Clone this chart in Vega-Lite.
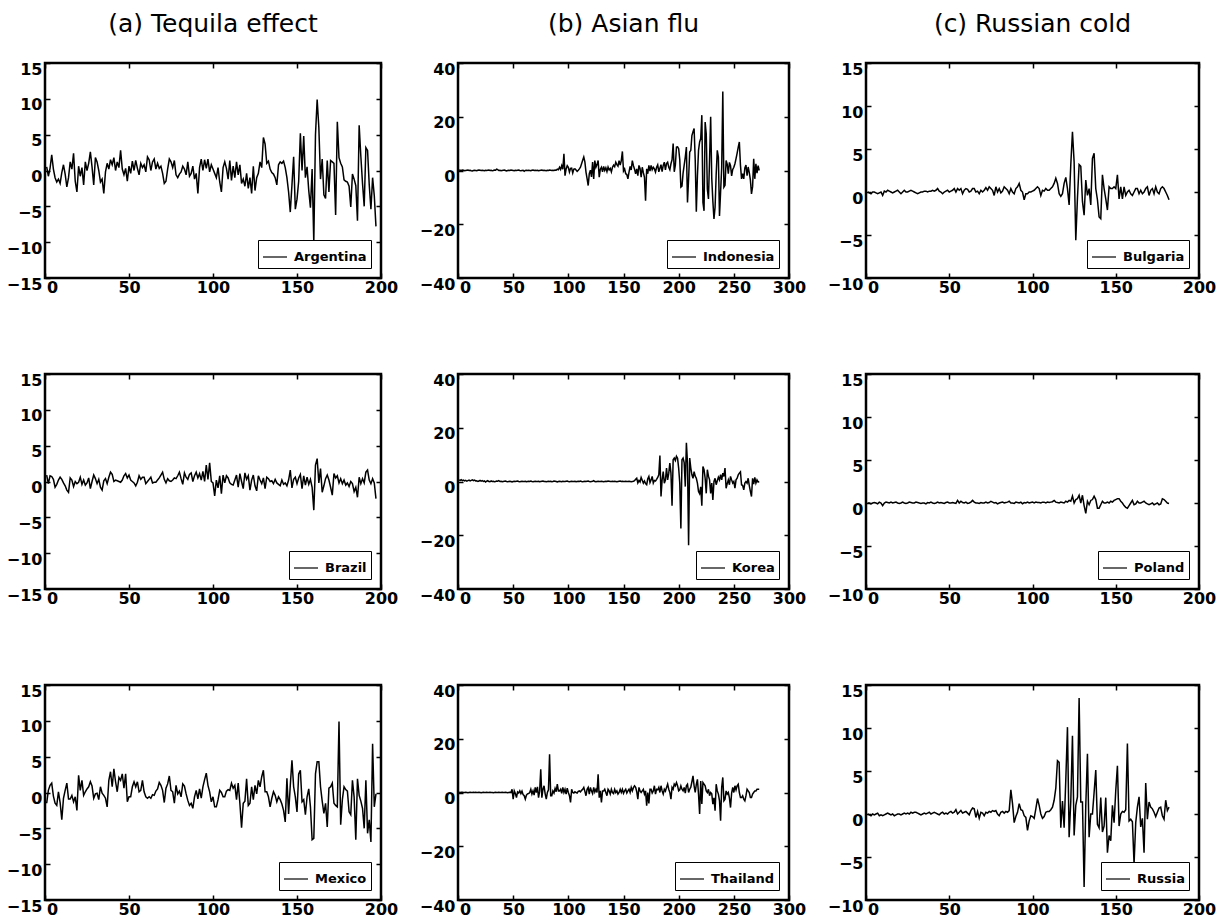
{
"$schema":"https://vega.github.io/schema/vega-lite/v6.json",
"background":"white",
"padding":{"left":5,"top":10,"right":0,"bottom":0},
"columns":3,
"spacing":{"row":96,"column":77},
"bounds":"flush",
"resolve":{"scale":{"color":"independent"},"legend":{"color":"independent"}},
"config":{
"view":{"stroke":"black","strokeWidth":2.5},
"axis":{"domain":false,"grid":false,"tickSize":-5,"tickColor":"black","tickWidth":1.5,"labelFont":"DejaVu Sans","labelFontWeight":"bold","labelFontSize":16,"labelColor":"black","labelFlush":false,"labelOverlap":false,"labelBound":false},
"axisX":{"labelPadding":6,"labelOffset":{"condition":{"test":"datum.value === 0","value":7},"value":0}},
"axisY":{"labelPadding":8,"labelOffset":6},
"legend":{"orient":"bottom-right","offset":10,"strokeColor":"black","strokeWidth":1,"fillColor":"white","padding":4,"symbolType":"stroke","symbolSize":576,"symbolStrokeWidth":1.2,"labelFont":"DejaVu Sans","labelFontWeight":"bold","labelFontSize":13,"labelColor":"black","labelOffset":6,"cornerRadius":0},
"title":{"font":"DejaVu Sans","fontSize":25,"fontWeight":"normal","color":"black","offset":24,"baseline":"alphabetic","anchor":"middle","frame":"group"}
},
"datasets":{
"tequila":[
{"t":1,"ar":0.5,"br":0.9,"mx":-1.5},{"t":2,"ar":-0.8,"br":-0.3,"mx":0.3},{"t":3,"ar":0.3,"br":0.8,"mx":1.0},{"t":4,"ar":2.2,"br":0.7,"mx":1.3},{"t":5,"ar":0.2,"br":0.3,"mx":-0.5},{"t":6,"ar":-1.0,"br":-0.8,"mx":-1.5},{"t":7,"ar":-1.6,"br":-0.4,"mx":-1.8},{"t":8,"ar":-1.2,"br":0.2,"mx":0.1},{"t":9,"ar":-1.8,"br":0.6,"mx":-1.4},{"t":10,"ar":-0.3,"br":0.3,"mx":-3.8},
{"t":11,"ar":0.8,"br":-0.2,"mx":-0.8},{"t":12,"ar":-0.5,"br":-0.6,"mx":0.3},{"t":13,"ar":-2.3,"br":-1.2,"mx":1.3},{"t":14,"ar":-1.0,"br":-1.5,"mx":-0.9},{"t":15,"ar":1.2,"br":0.5,"mx":-0.9},{"t":16,"ar":0.2,"br":0.2,"mx":-0.4},{"t":17,"ar":2.4,"br":-0.7,"mx":-1.3},{"t":18,"ar":-1.5,"br":0.0,"mx":-0.6},{"t":19,"ar":-3.0,"br":-0.3,"mx":-2.5},{"t":20,"ar":0.6,"br":-0.1,"mx":2.4},
{"t":21,"ar":-0.8,"br":0.6,"mx":0.3},{"t":22,"ar":0.4,"br":-0.4,"mx":1.7},{"t":23,"ar":-2.0,"br":0.2,"mx":-0.4},{"t":24,"ar":1.2,"br":-0.5,"mx":0.1},{"t":25,"ar":0.0,"br":-0.2,"mx":0.5},{"t":26,"ar":1.0,"br":0.5,"mx":0.8},{"t":27,"ar":2.6,"br":-1.0,"mx":1.5},{"t":28,"ar":0.5,"br":0.0,"mx":0.9},{"t":29,"ar":-2.0,"br":0.9,"mx":-0.8},{"t":30,"ar":1.8,"br":0.4,"mx":-0.2},
{"t":31,"ar":1.2,"br":-0.3,"mx":-0.1},{"t":32,"ar":0.0,"br":0.3,"mx":-1.0},{"t":33,"ar":-1.6,"br":-0.8,"mx":0.8},{"t":34,"ar":-1.2,"br":-1.2,"mx":-0.1},{"t":35,"ar":-3.2,"br":0.1,"mx":-0.4},{"t":36,"ar":-0.2,"br":0.4,"mx":-0.8},{"t":37,"ar":1.0,"br":-0.3,"mx":-2.0},{"t":38,"ar":0.2,"br":0.6,"mx":1.7},{"t":39,"ar":1.5,"br":1.3,"mx":2.9},{"t":40,"ar":0.8,"br":1.0,"mx":0.8},
{"t":41,"ar":1.8,"br":0.0,"mx":3.3},{"t":42,"ar":0.0,"br":0.2,"mx":1.5},{"t":43,"ar":1.2,"br":0.1,"mx":0.1},{"t":44,"ar":0.4,"br":0.0,"mx":2.1},{"t":45,"ar":2.8,"br":-0.1,"mx":1.7},{"t":46,"ar":0.2,"br":0.2,"mx":2.6},{"t":47,"ar":-0.6,"br":0.8,"mx":0.6},{"t":48,"ar":0.3,"br":1.1,"mx":2.6},{"t":49,"ar":-1.5,"br":0.5,"mx":-1.3},{"t":50,"ar":0.6,"br":0.9,"mx":-0.6},
{"t":51,"ar":-0.4,"br":0.2,"mx":-0.6},{"t":52,"ar":1.3,"br":0.0,"mx":0.8},{"t":53,"ar":0.0,"br":-0.2,"mx":1.5},{"t":54,"ar":1.4,"br":-0.6,"mx":0.8},{"t":55,"ar":0.3,"br":-0.1,"mx":1.5},{"t":56,"ar":-0.6,"br":0.8,"mx":0.1},{"t":57,"ar":1.0,"br":0.3,"mx":0.3},{"t":58,"ar":0.4,"br":0.6,"mx":1.7},{"t":59,"ar":0.8,"br":0.6,"mx":0.1},{"t":60,"ar":-0.2,"br":-0.3,"mx":-0.6},
{"t":61,"ar":1.9,"br":0.0,"mx":-0.8},{"t":62,"ar":1.5,"br":0.3,"mx":-0.6},{"t":63,"ar":0.0,"br":0.6,"mx":-0.8},{"t":64,"ar":1.2,"br":-0.2,"mx":-0.3},{"t":65,"ar":1.6,"br":-0.1,"mx":-0.4},{"t":66,"ar":0.2,"br":-0.1,"mx":0.2},{"t":67,"ar":1.0,"br":0.2,"mx":0.5},{"t":68,"ar":0.3,"br":0.5,"mx":1.4},{"t":69,"ar":0.6,"br":0.9,"mx":1.0},{"t":70,"ar":-0.4,"br":1.3,"mx":0.3},
{"t":71,"ar":-1.8,"br":0.3,"mx":-1.4},{"t":72,"ar":-1.5,"br":-0.2,"mx":0.6},{"t":73,"ar":0.2,"br":0.4,"mx":1.2},{"t":74,"ar":1.6,"br":0.1,"mx":2.3},{"t":75,"ar":1.2,"br":0.0,"mx":0.3},{"t":76,"ar":0.4,"br":0.2,"mx":0.1},{"t":77,"ar":1.4,"br":0.5,"mx":-1.5},{"t":78,"ar":-0.6,"br":0.4,"mx":1.0},{"t":79,"ar":-1.0,"br":0.8,"mx":-0.2},{"t":80,"ar":-0.5,"br":1.3,"mx":0.2},
{"t":81,"ar":-0.2,"br":0.4,"mx":-0.6},{"t":82,"ar":0.6,"br":-0.4,"mx":1.2},{"t":83,"ar":0.2,"br":1.2,"mx":0.9},{"t":84,"ar":-0.6,"br":0.6,"mx":-0.2},{"t":85,"ar":1.2,"br":0.3,"mx":-1.1},{"t":86,"ar":-0.8,"br":1.0,"mx":-1.8},{"t":87,"ar":-0.4,"br":1.2,"mx":-1.5},{"t":88,"ar":0.6,"br":0.0,"mx":-2.2},{"t":89,"ar":-1.2,"br":0.8,"mx":-0.6},{"t":90,"ar":-0.4,"br":1.3,"mx":0.3},
{"t":91,"ar":-3.2,"br":0.5,"mx":-0.9},{"t":92,"ar":0.4,"br":1.1,"mx":0.5},{"t":93,"ar":1.6,"br":0.2,"mx":-0.8},{"t":94,"ar":0.0,"br":1.4,"mx":0.8},{"t":95,"ar":1.5,"br":0.0,"mx":1.8},{"t":96,"ar":0.3,"br":2.3,"mx":2.7},{"t":97,"ar":1.6,"br":0.3,"mx":1.0},{"t":98,"ar":-0.2,"br":2.6,"mx":0.1},{"t":99,"ar":0.8,"br":0.0,"mx":-1.3},{"t":100,"ar":0.2,"br":-0.2,"mx":-0.6},
{"t":101,"ar":-0.4,"br":-2.0,"mx":-2.0},{"t":102,"ar":-1.0,"br":0.2,"mx":-2.0},{"t":103,"ar":0.4,"br":-0.9,"mx":-1.0},{"t":104,"ar":-1.6,"br":0.8,"mx":0.3},{"t":105,"ar":-3.0,"br":-1.7,"mx":0.0},{"t":106,"ar":0.4,"br":0.9,"mx":-0.6},{"t":107,"ar":1.2,"br":-0.2,"mx":-0.6},{"t":108,"ar":0.3,"br":0.8,"mx":0.2},{"t":109,"ar":-1.2,"br":0.5,"mx":0.4},{"t":110,"ar":1.4,"br":-0.2,"mx":0.3},
{"t":111,"ar":-1.4,"br":-0.4,"mx":1.3},{"t":112,"ar":0.6,"br":-0.5,"mx":0.6},{"t":113,"ar":-1.0,"br":0.2,"mx":1.0},{"t":114,"ar":1.2,"br":0.9,"mx":-1.0},{"t":115,"ar":-0.6,"br":-0.8,"mx":1.3},{"t":116,"ar":0.8,"br":1.1,"mx":-1.5},{"t":117,"ar":-1.8,"br":0.0,"mx":-4.9},{"t":118,"ar":-1.2,"br":-1.0,"mx":-1.5},{"t":119,"ar":-2.2,"br":1.2,"mx":-1.2},{"t":120,"ar":-0.4,"br":0.3,"mx":1.9},
{"t":121,"ar":-2.5,"br":0.8,"mx":-1.8},{"t":122,"ar":-1.0,"br":-1.2,"mx":-1.5},{"t":123,"ar":-3.2,"br":0.2,"mx":0.8},{"t":124,"ar":0.6,"br":0.9,"mx":-1.0},{"t":125,"ar":-2.8,"br":-0.6,"mx":1.0},{"t":126,"ar":-1.0,"br":-1.3,"mx":-0.2},{"t":127,"ar":-0.4,"br":0.8,"mx":1.7},{"t":128,"ar":1.2,"br":0.2,"mx":0.8},{"t":129,"ar":0.4,"br":-0.3,"mx":2.2},{"t":130,"ar":4.6,"br":0.5,"mx":3.1},
{"t":131,"ar":3.7,"br":-1.0,"mx":0.1},{"t":132,"ar":1.0,"br":0.6,"mx":0.1},{"t":133,"ar":1.3,"br":0.4,"mx":-0.6},{"t":134,"ar":0.2,"br":0.0,"mx":-2.0},{"t":135,"ar":-0.3,"br":0.1,"mx":-0.8},{"t":136,"ar":-0.5,"br":-0.3,"mx":0.1},{"t":137,"ar":-1.0,"br":0.3,"mx":-0.4},{"t":138,"ar":-2.0,"br":-0.2,"mx":-1.3},{"t":139,"ar":0.8,"br":-0.4,"mx":-0.6},{"t":140,"ar":1.2,"br":-0.6,"mx":-1.0},
{"t":141,"ar":1.0,"br":0.2,"mx":-1.6},{"t":142,"ar":1.3,"br":-0.4,"mx":-2.5},{"t":143,"ar":0.4,"br":-0.2,"mx":-4.1},{"t":144,"ar":-1.0,"br":-0.6,"mx":2.0},{"t":145,"ar":-3.0,"br":0.2,"mx":-3.0},{"t":146,"ar":-5.8,"br":1.6,"mx":1.0},{"t":147,"ar":-2.0,"br":-0.9,"mx":4.5},{"t":148,"ar":1.9,"br":0.3,"mx":0.8},{"t":149,"ar":-5.4,"br":0.6,"mx":-0.6},{"t":150,"ar":-4.0,"br":-0.3,"mx":-2.7},
{"t":151,"ar":-1.5,"br":0.5,"mx":2.6},{"t":152,"ar":5.2,"br":1.0,"mx":3.1},{"t":153,"ar":0.0,"br":-1.0,"mx":-1.3},{"t":154,"ar":4.8,"br":0.8,"mx":-1.0},{"t":155,"ar":-1.0,"br":-0.5,"mx":-3.1},{"t":156,"ar":0.5,"br":0.6,"mx":-0.6},{"t":157,"ar":-2.8,"br":-0.4,"mx":0.5},{"t":158,"ar":-5.2,"br":0.3,"mx":-2.0},{"t":159,"ar":0.2,"br":-0.8,"mx":-6.6},{"t":160,"ar":-10.0,"br":-4.0,"mx":-6.4},
{"t":161,"ar":5.0,"br":2.3,"mx":2.6},{"t":162,"ar":9.9,"br":3.2,"mx":4.3},{"t":163,"ar":6.0,"br":-0.2,"mx":4.3},{"t":164,"ar":-1.2,"br":1.8,"mx":0.8},{"t":165,"ar":1.6,"br":-1.5,"mx":-1.2},{"t":166,"ar":-3.4,"br":-0.6,"mx":-2.9},{"t":167,"ar":-3.9,"br":0.4,"mx":-1.5},{"t":168,"ar":1.4,"br":0.9,"mx":-4.8},{"t":169,"ar":-3.0,"br":0.2,"mx":0.6},{"t":170,"ar":1.4,"br":-0.8,"mx":0.8},
{"t":171,"ar":1.2,"br":-1.9,"mx":1.3},{"t":172,"ar":1.0,"br":1.1,"mx":-1.5},{"t":173,"ar":-6.2,"br":0.5,"mx":-1.8},{"t":174,"ar":6.8,"br":0.8,"mx":-2.0},{"t":175,"ar":1.8,"br":-0.2,"mx":9.9},{"t":176,"ar":1.0,"br":0.4,"mx":-4.5},{"t":177,"ar":0.5,"br":-0.3,"mx":-1.0},{"t":178,"ar":-1.3,"br":0.2,"mx":0.8},{"t":179,"ar":-1.5,"br":-0.5,"mx":0.4},{"t":180,"ar":-1.6,"br":-0.2,"mx":0.2},
{"t":181,"ar":-2.2,"br":-0.7,"mx":-2.7},{"t":182,"ar":-5.1,"br":0.0,"mx":-3.1},{"t":183,"ar":-0.5,"br":-0.3,"mx":1.7},{"t":184,"ar":-1.2,"br":-1.4,"mx":-0.6},{"t":185,"ar":-2.1,"br":-0.8,"mx":-6.6},{"t":186,"ar":-7.0,"br":-2.2,"mx":1.9},{"t":187,"ar":6.3,"br":0.6,"mx":-0.4},{"t":188,"ar":2.0,"br":-0.3,"mx":-1.2},{"t":189,"ar":-1.8,"br":0.4,"mx":-2.2},{"t":190,"ar":-5.0,"br":-0.2,"mx":-5.0},
{"t":191,"ar":3.2,"br":1.3,"mx":1.7},{"t":192,"ar":2.8,"br":1.6,"mx":-5.7},{"t":193,"ar":-2.0,"br":0.2,"mx":-3.8},{"t":194,"ar":-5.4,"br":-0.3,"mx":-6.9},{"t":195,"ar":-1.0,"br":0.4,"mx":6.8},{"t":196,"ar":-3.5,"br":-0.2,"mx":-2.0},{"t":197,"ar":-7.8,"br":-2.4,"mx":-0.2}
],
"asian":[
{"t":1,"id":0.2,"kr":0.6,"th":0.1},{"t":2,"id":0.1,"kr":0.4,"th":0.0},{"t":3,"id":0.0,"kr":0.7,"th":0.1},{"t":4,"id":0.2,"kr":0.3,"th":0.1},{"t":5,"id":0.1,"kr":0.5,"th":0.0},{"t":6,"id":-0.1,"kr":0.2,"th":0.0},{"t":7,"id":0.0,"kr":0.4,"th":0.1},{"t":8,"id":0.1,"kr":0.1,"th":0.0},{"t":9,"id":0.2,"kr":0.3,"th":-0.1},{"t":10,"id":0.0,"kr":0.5,"th":0.0},
{"t":11,"id":0.1,"kr":0.2,"th":0.1},{"t":12,"id":-0.1,"kr":0.4,"th":0.0},{"t":13,"id":-0.2,"kr":0.6,"th":0.0},{"t":14,"id":0.0,"kr":0.3,"th":0.1},{"t":15,"id":0.1,"kr":0.5,"th":0.0},{"t":16,"id":0.0,"kr":0.2,"th":0.1},{"t":17,"id":-0.1,"kr":0.3,"th":0.0},{"t":18,"id":0.1,"kr":0.0,"th":0.0},{"t":19,"id":0.2,"kr":0.2,"th":0.1},{"t":20,"id":0.1,"kr":0.4,"th":0.0},
{"t":21,"id":0.0,"kr":0.1,"th":-0.1},{"t":22,"id":0.1,"kr":0.3,"th":0.0},{"t":23,"id":0.0,"kr":0.0,"th":0.1},{"t":24,"id":-0.1,"kr":0.2,"th":0.0},{"t":25,"id":0.1,"kr":-0.2,"th":0.0},{"t":26,"id":0.0,"kr":0.1,"th":0.1},{"t":27,"id":0.1,"kr":0.3,"th":0.0},{"t":28,"id":0.2,"kr":0.0,"th":0.0},{"t":29,"id":0.0,"kr":-0.1,"th":0.1},{"t":30,"id":0.1,"kr":0.2,"th":0.0},
{"t":31,"id":-0.1,"kr":0.0,"th":0.0},{"t":32,"id":0.0,"kr":0.1,"th":-0.1},{"t":33,"id":0.2,"kr":-0.1,"th":0.0},{"t":34,"id":0.1,"kr":0.0,"th":0.1},{"t":35,"id":0.5,"kr":0.2,"th":0.0},{"t":36,"id":0.3,"kr":0.1,"th":0.0},{"t":37,"id":0.0,"kr":0.3,"th":0.1},{"t":38,"id":0.1,"kr":0.0,"th":0.0},{"t":39,"id":-0.1,"kr":0.1,"th":0.0},{"t":40,"id":0.0,"kr":-0.1,"th":0.1},
{"t":41,"id":0.1,"kr":0.0,"th":0.0},{"t":42,"id":0.2,"kr":0.1,"th":0.0},{"t":43,"id":0.0,"kr":0.2,"th":0.1},{"t":44,"id":-0.2,"kr":0.0,"th":0.0},{"t":45,"id":0.0,"kr":-0.1,"th":-0.1},{"t":46,"id":0.1,"kr":0.0,"th":0.0},{"t":47,"id":0.0,"kr":0.1,"th":0.1},{"t":48,"id":0.2,"kr":0.0,"th":0.0},{"t":49,"id":0.1,"kr":-0.2,"th":1.2},{"t":50,"id":0.0,"kr":0.0,"th":-2.5},
{"t":51,"id":-0.1,"kr":0.1,"th":0.6},{"t":52,"id":0.1,"kr":0.0,"th":-0.4},{"t":53,"id":0.0,"kr":0.1,"th":-1.9},{"t":54,"id":0.1,"kr":0.2,"th":0.2},{"t":55,"id":0.2,"kr":0.0,"th":-0.2},{"t":56,"id":0.0,"kr":-0.1,"th":0.6},{"t":57,"id":-0.1,"kr":0.0,"th":-0.4},{"t":58,"id":0.0,"kr":0.1,"th":0.5},{"t":59,"id":0.1,"kr":0.0,"th":-0.8},{"t":60,"id":-0.3,"kr":0.0,"th":-1.2},
{"t":61,"id":0.0,"kr":0.1,"th":-2.5},{"t":62,"id":0.1,"kr":-0.1,"th":-1.0},{"t":63,"id":0.0,"kr":0.0,"th":-0.5},{"t":64,"id":0.1,"kr":0.1,"th":-0.4},{"t":65,"id":0.0,"kr":0.0,"th":0.0},{"t":66,"id":-0.1,"kr":0.2,"th":1.2},{"t":67,"id":0.1,"kr":0.0,"th":-0.6},{"t":68,"id":0.2,"kr":-0.1,"th":0.6},{"t":69,"id":0.0,"kr":0.0,"th":-1.0},{"t":70,"id":0.1,"kr":0.1,"th":1.9},
{"t":71,"id":0.0,"kr":0.0,"th":0.0},{"t":72,"id":0.1,"kr":0.0,"th":2.1},{"t":73,"id":-0.1,"kr":0.1,"th":-1.9},{"t":74,"id":0.0,"kr":-0.1,"th":0.5},{"t":75,"id":0.1,"kr":0.0,"th":8.6},{"t":76,"id":0.2,"kr":0.1,"th":-1.9},{"t":77,"id":0.0,"kr":0.2,"th":1.2},{"t":78,"id":0.1,"kr":0.0,"th":2.5},{"t":79,"id":0.0,"kr":0.0,"th":-0.5},{"t":80,"id":-0.1,"kr":-0.1,"th":-2.5},
{"t":81,"id":0.1,"kr":0.0,"th":0.0},{"t":82,"id":0.0,"kr":0.1,"th":1.0},{"t":83,"id":0.2,"kr":0.0,"th":14.2},{"t":84,"id":0.1,"kr":0.1,"th":-1.2},{"t":85,"id":0.0,"kr":-0.1,"th":-1.2},{"t":86,"id":0.1,"kr":0.0,"th":0.6},{"t":87,"id":0.0,"kr":0.2,"th":-0.2},{"t":88,"id":0.2,"kr":0.1,"th":1.5},{"t":89,"id":0.1,"kr":0.0,"th":0.3},{"t":90,"id":0.5,"kr":-0.2,"th":3.1},
{"t":91,"id":0.3,"kr":0.0,"th":0.6},{"t":92,"id":1.2,"kr":0.1,"th":0.6},{"t":93,"id":0.4,"kr":0.0,"th":1.2},{"t":94,"id":1.8,"kr":-0.1,"th":-0.3},{"t":95,"id":0.5,"kr":0.1,"th":1.9},{"t":96,"id":6.2,"kr":0.0,"th":0.0},{"t":97,"id":-1.9,"kr":0.0,"th":1.2},{"t":98,"id":0.6,"kr":0.1,"th":-0.6},{"t":99,"id":1.8,"kr":0.2,"th":1.6},{"t":100,"id":1.2,"kr":0.0,"th":0.0},
{"t":101,"id":-0.6,"kr":-0.1,"th":-1.2},{"t":102,"id":0.8,"kr":0.0,"th":-3.7},{"t":103,"id":0.9,"kr":0.1,"th":1.2},{"t":104,"id":-0.9,"kr":0.0,"th":0.0},{"t":105,"id":0.5,"kr":0.0,"th":-0.2},{"t":106,"id":0.6,"kr":0.1,"th":0.3},{"t":107,"id":0.2,"kr":-0.1,"th":0.0},{"t":108,"id":-0.3,"kr":0.0,"th":-0.2},{"t":109,"id":0.1,"kr":0.1,"th":0.4},{"t":110,"id":0.6,"kr":0.0,"th":0.6},
{"t":111,"id":1.2,"kr":0.2,"th":0.2},{"t":112,"id":2.5,"kr":0.0,"th":0.8},{"t":113,"id":3.8,"kr":-0.1,"th":1.2},{"t":114,"id":5.0,"kr":0.0,"th":1.9},{"t":115,"id":3.2,"kr":0.1,"th":0.4},{"t":116,"id":-0.6,"kr":0.0,"th":-1.2},{"t":117,"id":-3.0,"kr":0.1,"th":1.2},{"t":118,"id":-5.6,"kr":0.2,"th":1.9},{"t":119,"id":-1.2,"kr":0.0,"th":-0.6},{"t":120,"id":0.1,"kr":-0.1,"th":1.9},
{"t":121,"id":-2.4,"kr":0.0,"th":0.6},{"t":122,"id":3.1,"kr":0.1,"th":-0.4},{"t":123,"id":-3.1,"kr":0.3,"th":1.9},{"t":124,"id":3.7,"kr":0.0,"th":0.2},{"t":125,"id":1.2,"kr":-0.1,"th":1.2},{"t":126,"id":2.2,"kr":0.0,"th":0.0},{"t":127,"id":3.7,"kr":0.1,"th":6.8},{"t":128,"id":-2.5,"kr":0.0,"th":-1.9},{"t":129,"id":0.5,"kr":0.0,"th":0.6},{"t":130,"id":1.2,"kr":0.1,"th":-3.7},
{"t":131,"id":-0.5,"kr":0.0,"th":0.6},{"t":132,"id":1.5,"kr":-0.1,"th":0.6},{"t":133,"id":0.0,"kr":0.0,"th":1.2},{"t":134,"id":1.0,"kr":0.1,"th":0.0},{"t":135,"id":-0.4,"kr":0.0,"th":-1.2},{"t":136,"id":1.3,"kr":0.2,"th":1.2},{"t":137,"id":0.2,"kr":0.1,"th":0.6},{"t":138,"id":0.8,"kr":0.0,"th":-0.6},{"t":139,"id":-0.5,"kr":0.0,"th":1.2},{"t":140,"id":1.2,"kr":0.1,"th":0.0},
{"t":141,"id":2.0,"kr":0.0,"th":-0.4},{"t":142,"id":1.4,"kr":0.1,"th":1.2},{"t":143,"id":3.1,"kr":0.0,"th":0.0},{"t":144,"id":2.2,"kr":-0.1,"th":0.6},{"t":145,"id":1.6,"kr":0.0,"th":-0.6},{"t":146,"id":3.7,"kr":0.1,"th":0.0},{"t":147,"id":2.0,"kr":0.2,"th":1.2},{"t":148,"id":3.7,"kr":0.0,"th":0.0},{"t":149,"id":7.1,"kr":0.1,"th":1.2},{"t":150,"id":-0.2,"kr":0.0,"th":-0.3},
{"t":151,"id":0.6,"kr":0.0,"th":0.6},{"t":152,"id":-1.2,"kr":0.1,"th":1.2},{"t":153,"id":-1.5,"kr":0.0,"th":-0.2},{"t":154,"id":-3.1,"kr":0.0,"th":0.6},{"t":155,"id":-0.6,"kr":0.1,"th":1.2},{"t":156,"id":1.5,"kr":0.0,"th":0.0},{"t":157,"id":0.2,"kr":-0.1,"th":1.9},{"t":158,"id":3.7,"kr":0.0,"th":0.6},{"t":159,"id":1.8,"kr":0.1,"th":1.8},{"t":160,"id":0.5,"kr":0.3,"th":2.5},
{"t":161,"id":-1.2,"kr":0.8,"th":1.9},{"t":162,"id":0.6,"kr":1.2,"th":0.3},{"t":163,"id":-1.9,"kr":-0.5,"th":-2.5},{"t":164,"id":1.9,"kr":0.4,"th":1.9},{"t":165,"id":0.8,"kr":-0.2,"th":0.6},{"t":166,"id":-2.5,"kr":1.5,"th":0.0},{"t":167,"id":1.2,"kr":0.5,"th":0.6},{"t":168,"id":-0.8,"kr":-0.6,"th":1.2},{"t":169,"id":-2.5,"kr":0.2,"th":-0.6},{"t":170,"id":-11.2,"kr":-0.8,"th":0.6},
{"t":171,"id":0.6,"kr":-1.2,"th":-4.9},{"t":172,"id":-1.2,"kr":1.0,"th":0.0},{"t":173,"id":1.9,"kr":1.9,"th":-4.1},{"t":174,"id":-0.2,"kr":-0.4,"th":1.2},{"t":175,"id":1.9,"kr":0.6,"th":1.2},{"t":176,"id":0.3,"kr":1.9,"th":-0.2},{"t":177,"id":1.2,"kr":-0.6,"th":0.6},{"t":178,"id":0.6,"kr":0.4,"th":2.5},{"t":179,"id":-0.6,"kr":0.2,"th":-0.6},{"t":180,"id":1.2,"kr":0.8,"th":1.2},
{"t":181,"id":2.1,"kr":1.5,"th":1.0},{"t":182,"id":-0.5,"kr":2.5,"th":1.9},{"t":183,"id":0.8,"kr":9.7,"th":0.0},{"t":184,"id":2.2,"kr":-5.6,"th":2.5},{"t":185,"id":-0.4,"kr":0.6,"th":0.6},{"t":186,"id":1.9,"kr":3.7,"th":-0.6},{"t":187,"id":3.1,"kr":-0.6,"th":1.2},{"t":188,"id":0.2,"kr":0.5,"th":0.5},{"t":189,"id":2.6,"kr":5.0,"th":1.9},{"t":190,"id":3.1,"kr":0.6,"th":3.1},
{"t":191,"id":1.2,"kr":3.0,"th":1.2},{"t":192,"id":0.3,"kr":6.9,"th":0.0},{"t":193,"id":2.5,"kr":3.1,"th":-2.5},{"t":194,"id":4.0,"kr":-9.0,"th":1.9},{"t":195,"id":10.0,"kr":8.1,"th":1.2},{"t":196,"id":-0.5,"kr":8.7,"th":3.1},{"t":197,"id":2.0,"kr":7.8,"th":2.5},{"t":198,"id":8.7,"kr":9.4,"th":3.7},{"t":199,"id":8.8,"kr":8.7,"th":2.5},{"t":200,"id":8.1,"kr":5.0,"th":0.6},
{"t":201,"id":4.0,"kr":-0.6,"th":1.0},{"t":202,"id":-6.2,"kr":-17.5,"th":2.5},{"t":203,"id":-5.8,"kr":8.1,"th":1.2},{"t":204,"id":-1.0,"kr":8.7,"th":0.6},{"t":205,"id":2.0,"kr":7.0,"th":1.9},{"t":206,"id":5.0,"kr":-1.9,"th":-0.2},{"t":207,"id":8.7,"kr":14.4,"th":2.5},{"t":208,"id":-11.9,"kr":6.9,"th":3.1},{"t":209,"id":-3.0,"kr":-23.7,"th":0.0},{"t":210,"id":6.9,"kr":8.7,"th":1.2},
{"t":211,"id":7.5,"kr":5.0,"th":2.0},{"t":212,"id":13.0,"kr":2.5,"th":4.0},{"t":213,"id":14.4,"kr":1.2,"th":6.2},{"t":214,"id":15.6,"kr":3.7,"th":2.5},{"t":215,"id":4.0,"kr":2.0,"th":0.0},{"t":216,"id":-15.3,"kr":1.2,"th":3.0},{"t":217,"id":-2.0,"kr":-0.6,"th":4.9},{"t":218,"id":7.5,"kr":-3.7,"th":-0.6},{"t":219,"id":10.6,"kr":-4.5,"th":-8.0},{"t":220,"id":11.9,"kr":-2.0,"th":4.3},
{"t":221,"id":20.6,"kr":-9.0,"th":-4.3},{"t":222,"id":-11.9,"kr":5.6,"th":3.7},{"t":223,"id":-15.0,"kr":4.4,"th":3.1},{"t":224,"id":18.0,"kr":1.2,"th":2.5},{"t":225,"id":13.7,"kr":-4.4,"th":0.6},{"t":226,"id":-7.0,"kr":4.4,"th":0.0},{"t":227,"id":-10.6,"kr":2.0,"th":1.2},{"t":228,"id":4.0,"kr":0.6,"th":-1.2},{"t":229,"id":20.0,"kr":-4.4,"th":0.0},{"t":230,"id":-3.0,"kr":-0.6,"th":-0.5},
{"t":231,"id":-11.5,"kr":-6.9,"th":-4.3},{"t":232,"id":-18.0,"kr":0.0,"th":-2.0},{"t":233,"id":-13.7,"kr":1.2,"th":-6.8},{"t":234,"id":-1.5,"kr":-1.2,"th":3.1},{"t":235,"id":7.5,"kr":0.3,"th":0.6},{"t":236,"id":5.0,"kr":1.6,"th":-0.6},{"t":237,"id":-16.9,"kr":0.6,"th":-3.0},{"t":238,"id":-8.0,"kr":2.5,"th":-10.5},{"t":239,"id":1.0,"kr":0.6,"th":1.9},{"t":240,"id":29.4,"kr":3.1,"th":5.6},
{"t":241,"id":-6.2,"kr":1.9,"th":-3.1},{"t":242,"id":-5.5,"kr":5.0,"th":-2.5},{"t":243,"id":3.7,"kr":-2.5,"th":0.6},{"t":244,"id":2.4,"kr":-0.8,"th":-0.6},{"t":245,"id":-1.2,"kr":0.6,"th":0.0},{"t":246,"id":3.0,"kr":-1.2,"th":-2.0},{"t":247,"id":1.8,"kr":1.9,"th":-5.6},{"t":248,"id":-2.0,"kr":0.6,"th":-0.2},{"t":249,"id":0.4,"kr":-0.6,"th":1.9},{"t":250,"id":1.2,"kr":0.0,"th":0.0},
{"t":251,"id":2.5,"kr":-2.5,"th":2.5},{"t":252,"id":4.4,"kr":0.6,"th":1.0},{"t":253,"id":6.5,"kr":1.2,"th":2.5},{"t":254,"id":8.7,"kr":2.5,"th":3.1},{"t":255,"id":10.6,"kr":3.1,"th":0.0},{"t":256,"id":2.0,"kr":3.6,"th":-1.9},{"t":257,"id":-3.1,"kr":-1.2,"th":-1.9},{"t":258,"id":-1.2,"kr":-1.5,"th":-1.2},{"t":259,"id":-3.1,"kr":-3.1,"th":-2.5},{"t":260,"id":1.0,"kr":-0.6,"th":-3.1},
{"t":261,"id":2.0,"kr":0.0,"th":-1.2},{"t":262,"id":-1.9,"kr":-0.6,"th":1.2},{"t":263,"id":1.3,"kr":1.2,"th":0.6},{"t":264,"id":-0.8,"kr":-1.5,"th":0.0},{"t":265,"id":-3.5,"kr":-3.7,"th":-1.9},{"t":266,"id":-8.7,"kr":-5.6,"th":-1.9},{"t":267,"id":-6.0,"kr":1.2,"th":-0.6},{"t":268,"id":4.4,"kr":-1.0,"th":0.0},{"t":269,"id":-3.1,"kr":1.5,"th":0.6},{"t":270,"id":2.5,"kr":-0.6,"th":0.6},
{"t":271,"id":-1.0,"kr":0.6,"th":1.2},{"t":272,"id":1.8,"kr":-0.2,"th":1.2},{"t":273,"id":0.0,"kr":0.0,"th":1.2}
],
"russian":[
{"t":1,"bg":0.0,"pl":0.0,"ru":0.0},{"t":2,"bg":-0.1,"pl":0.0,"ru":-0.1},{"t":3,"bg":-0.2,"pl":-0.1,"ru":-0.2},{"t":4,"bg":0.0,"pl":0.0,"ru":0.0},{"t":5,"bg":0.0,"pl":0.05,"ru":-0.1},{"t":6,"bg":-0.1,"pl":0.0,"ru":0.0},{"t":7,"bg":-0.2,"pl":-0.1,"ru":0.1},{"t":8,"bg":-0.1,"pl":0.1,"ru":-0.2},{"t":9,"bg":0.0,"pl":0.0,"ru":-0.1},{"t":10,"bg":-0.4,"pl":-0.3,"ru":-0.2},
{"t":11,"bg":0.1,"pl":0.0,"ru":-0.1},{"t":12,"bg":0.0,"pl":0.1,"ru":0.0},{"t":13,"bg":0.2,"pl":0.05,"ru":0.1},{"t":14,"bg":0.1,"pl":0.0,"ru":0.0},{"t":15,"bg":0.0,"pl":0.1,"ru":-0.1},{"t":16,"bg":-0.1,"pl":0.0,"ru":0.0},{"t":17,"bg":0.0,"pl":0.05,"ru":-0.2},{"t":18,"bg":0.1,"pl":0.1,"ru":-0.1},{"t":19,"bg":0.2,"pl":0.0,"ru":0.0},{"t":20,"bg":0.0,"pl":-0.05,"ru":0.0},
{"t":21,"bg":-0.2,"pl":0.0,"ru":-0.1},{"t":22,"bg":0.0,"pl":0.1,"ru":0.0},{"t":23,"bg":0.2,"pl":0.0,"ru":0.1},{"t":24,"bg":0.0,"pl":-0.05,"ru":0.0},{"t":25,"bg":0.0,"pl":0.0,"ru":0.1},{"t":26,"bg":0.1,"pl":0.1,"ru":0.0},{"t":27,"bg":0.2,"pl":0.05,"ru":0.2},{"t":28,"bg":0.1,"pl":0.0,"ru":0.1},{"t":29,"bg":0.0,"pl":0.0,"ru":0.2},{"t":30,"bg":-0.1,"pl":0.1,"ru":0.2},
{"t":31,"bg":-0.2,"pl":0.05,"ru":0.1},{"t":32,"bg":-0.1,"pl":0.0,"ru":0.0},{"t":33,"bg":0.0,"pl":-0.05,"ru":-0.1},{"t":34,"bg":0.0,"pl":0.0,"ru":0.0},{"t":35,"bg":0.1,"pl":0.0,"ru":0.1},{"t":36,"bg":0.1,"pl":-0.1,"ru":0.0},{"t":37,"bg":0.0,"pl":0.05,"ru":0.1},{"t":38,"bg":0.1,"pl":0.0,"ru":0.2},{"t":39,"bg":0.1,"pl":0.1,"ru":0.0},{"t":40,"bg":0.2,"pl":0.0,"ru":0.1},
{"t":41,"bg":0.1,"pl":-0.05,"ru":0.2},{"t":42,"bg":0.2,"pl":0.0,"ru":0.1},{"t":43,"bg":0.4,"pl":0.1,"ru":0.0},{"t":44,"bg":0.1,"pl":0.0,"ru":-0.1},{"t":45,"bg":0.0,"pl":0.05,"ru":0.1},{"t":46,"bg":-0.2,"pl":0.0,"ru":0.2},{"t":47,"bg":0.0,"pl":-0.05,"ru":0.0},{"t":48,"bg":0.1,"pl":0.05,"ru":0.1},{"t":49,"bg":0.2,"pl":0.1,"ru":0.0},{"t":50,"bg":0.0,"pl":0.0,"ru":0.2},
{"t":51,"bg":0.1,"pl":0.0,"ru":0.3},{"t":52,"bg":0.2,"pl":0.05,"ru":0.1},{"t":53,"bg":0.4,"pl":0.0,"ru":0.2},{"t":54,"bg":0.0,"pl":-0.05,"ru":0.5},{"t":55,"bg":0.4,"pl":0.3,"ru":0.0},{"t":56,"bg":0.2,"pl":0.0,"ru":0.2},{"t":57,"bg":0.4,"pl":0.2,"ru":0.4},{"t":58,"bg":-0.2,"pl":0.05,"ru":0.1},{"t":59,"bg":0.2,"pl":0.0,"ru":0.2},{"t":60,"bg":0.4,"pl":0.1,"ru":0.3},
{"t":61,"bg":0.3,"pl":-0.05,"ru":0.1},{"t":62,"bg":0.0,"pl":0.0,"ru":-0.1},{"t":63,"bg":0.1,"pl":0.1,"ru":0.4},{"t":64,"bg":0.4,"pl":0.3,"ru":0.7},{"t":65,"bg":0.4,"pl":0.1,"ru":0.6},{"t":66,"bg":0.0,"pl":0.0,"ru":-0.4},{"t":67,"bg":0.1,"pl":0.0,"ru":0.3},{"t":68,"bg":-0.2,"pl":-0.05,"ru":-0.5},{"t":69,"bg":0.2,"pl":0.05,"ru":0.2},{"t":70,"bg":0.0,"pl":0.0,"ru":0.1},
{"t":71,"bg":0.2,"pl":0.0,"ru":-0.2},{"t":72,"bg":0.5,"pl":0.1,"ru":0.2},{"t":73,"bg":0.2,"pl":0.0,"ru":0.1},{"t":74,"bg":0.6,"pl":0.05,"ru":0.3},{"t":75,"bg":0.4,"pl":0.2,"ru":0.2},{"t":76,"bg":0.2,"pl":0.1,"ru":0.4},{"t":77,"bg":-0.4,"pl":0.0,"ru":0.3},{"t":78,"bg":0.6,"pl":0.05,"ru":0.4},{"t":79,"bg":0.0,"pl":-0.1,"ru":0.0},{"t":80,"bg":0.4,"pl":0.0,"ru":-0.2},
{"t":81,"bg":-0.1,"pl":0.05,"ru":0.2},{"t":82,"bg":0.1,"pl":0.1,"ru":0.3},{"t":83,"bg":0.6,"pl":0.0,"ru":0.1},{"t":84,"bg":0.4,"pl":0.05,"ru":0.3},{"t":85,"bg":0.2,"pl":0.1,"ru":0.2},{"t":86,"bg":-0.2,"pl":0.2,"ru":0.4},{"t":87,"bg":0.4,"pl":0.0,"ru":2.8},{"t":88,"bg":0.0,"pl":0.0,"ru":1.2},{"t":89,"bg":-0.2,"pl":-0.05,"ru":-1.0},{"t":90,"bg":0.4,"pl":0.1,"ru":-0.3},
{"t":91,"bg":0.6,"pl":0.05,"ru":0.2},{"t":92,"bg":1.0,"pl":0.0,"ru":1.2},{"t":93,"bg":0.2,"pl":0.1,"ru":0.5},{"t":94,"bg":0.0,"pl":-0.1,"ru":0.4},{"t":95,"bg":-0.9,"pl":0.05,"ru":-0.2},{"t":96,"bg":-0.2,"pl":0.0,"ru":-0.4},{"t":97,"bg":-0.2,"pl":0.1,"ru":-1.9},{"t":98,"bg":0.0,"pl":0.0,"ru":-0.8},{"t":99,"bg":0.0,"pl":0.05,"ru":-0.2},{"t":100,"bg":0.1,"pl":0.1,"ru":-0.3},
{"t":101,"bg":0.2,"pl":0.0,"ru":-0.5},{"t":102,"bg":0.4,"pl":0.1,"ru":0.6},{"t":103,"bg":0.6,"pl":0.05,"ru":1.8},{"t":104,"bg":0.4,"pl":0.05,"ru":1.0},{"t":105,"bg":-0.4,"pl":0.0,"ru":0.0},{"t":106,"bg":0.2,"pl":0.1,"ru":-0.5},{"t":107,"bg":0.1,"pl":0.1,"ru":-0.3},{"t":108,"bg":0.4,"pl":0.0,"ru":0.2},{"t":109,"bg":0.2,"pl":0.1,"ru":0.3},{"t":110,"bg":0.2,"pl":0.05,"ru":0.3},
{"t":111,"bg":0.4,"pl":0.1,"ru":0.5},{"t":112,"bg":0.6,"pl":0.15,"ru":0.8},{"t":113,"bg":1.0,"pl":0.3,"ru":1.6},{"t":114,"bg":1.6,"pl":0.1,"ru":3.0},{"t":115,"bg":1.0,"pl":0.05,"ru":6.2},{"t":116,"bg":-0.2,"pl":0.0,"ru":6.0},{"t":117,"bg":-0.5,"pl":0.1,"ru":-1.6},{"t":118,"bg":-0.2,"pl":0.05,"ru":1.5},{"t":119,"bg":1.0,"pl":0.0,"ru":-1.6},{"t":120,"bg":1.7,"pl":0.2,"ru":4.0},
{"t":121,"bg":0.4,"pl":0.1,"ru":10.1},{"t":122,"bg":-1.5,"pl":0.3,"ru":-2.7},{"t":123,"bg":3.2,"pl":0.2,"ru":1.5},{"t":124,"bg":7.0,"pl":0.8,"ru":9.1},{"t":125,"bg":3.5,"pl":0.0,"ru":-2.5},{"t":126,"bg":-5.6,"pl":0.4,"ru":1.0},{"t":127,"bg":-0.7,"pl":0.5,"ru":2.0},{"t":128,"bg":3.2,"pl":0.9,"ru":13.5},{"t":129,"bg":3.0,"pl":0.0,"ru":1.4},{"t":130,"bg":-1.1,"pl":0.9,"ru":1.4},
{"t":131,"bg":-2.7,"pl":-0.3,"ru":-8.5},{"t":132,"bg":1.4,"pl":-1.2,"ru":1.0},{"t":133,"bg":-0.4,"pl":0.2,"ru":7.0},{"t":134,"bg":0.4,"pl":-0.2,"ru":-2.7},{"t":135,"bg":-1.5,"pl":0.3,"ru":0.0},{"t":136,"bg":3.9,"pl":0.4,"ru":0.0},{"t":137,"bg":4.5,"pl":0.8,"ru":2.5},{"t":138,"bg":0.4,"pl":0.4,"ru":5.1},{"t":139,"bg":-0.9,"pl":-0.6,"ru":-1.2},{"t":140,"bg":-2.9,"pl":-0.6,"ru":-1.6},
{"t":141,"bg":-3.1,"pl":-0.2,"ru":1.9},{"t":142,"bg":2.0,"pl":0.2,"ru":-2.1},{"t":143,"bg":0.4,"pl":0.0,"ru":-1.4},{"t":144,"bg":-0.8,"pl":0.0,"ru":1.9},{"t":145,"bg":-2.1,"pl":0.1,"ru":-4.5},{"t":146,"bg":0.6,"pl":0.0,"ru":-2.5},{"t":147,"bg":0.4,"pl":0.2,"ru":-3.1},{"t":148,"bg":0.4,"pl":0.1,"ru":1.0},{"t":149,"bg":0.6,"pl":0.3,"ru":-1.0},{"t":150,"bg":0.4,"pl":0.4,"ru":2.7},
{"t":151,"bg":2.0,"pl":0.5,"ru":5.6},{"t":152,"bg":-0.8,"pl":0.5,"ru":-1.4},{"t":153,"bg":0.6,"pl":0.2,"ru":0.0},{"t":154,"bg":-0.8,"pl":0.0,"ru":0.3},{"t":155,"bg":0.6,"pl":-0.3,"ru":0.2},{"t":156,"bg":-0.4,"pl":-0.5,"ru":0.5},{"t":157,"bg":0.0,"pl":-0.6,"ru":8.2},{"t":158,"bg":0.2,"pl":-0.3,"ru":-0.8},{"t":159,"bg":-0.2,"pl":0.0,"ru":-0.6},{"t":160,"bg":-0.4,"pl":0.3,"ru":-0.9},
{"t":161,"bg":0.0,"pl":-0.2,"ru":-5.8},{"t":162,"bg":0.4,"pl":-0.1,"ru":-1.0},{"t":163,"bg":0.4,"pl":0.2,"ru":0.8},{"t":164,"bg":-0.2,"pl":0.0,"ru":2.0},{"t":165,"bg":0.2,"pl":0.0,"ru":-1.5},{"t":166,"bg":-0.2,"pl":0.1,"ru":-0.5},{"t":167,"bg":0.0,"pl":0.2,"ru":-4.5},{"t":168,"bg":0.4,"pl":0.0,"ru":3.6},{"t":169,"bg":0.6,"pl":-0.1,"ru":-0.6},{"t":170,"bg":-0.4,"pl":-0.2,"ru":1.4},
{"t":171,"bg":0.2,"pl":-0.1,"ru":0.8},{"t":172,"bg":0.4,"pl":0.0,"ru":0.6},{"t":173,"bg":-0.2,"pl":-0.2,"ru":0.2},{"t":174,"bg":0.6,"pl":-0.1,"ru":-0.3},{"t":175,"bg":0.0,"pl":0.0,"ru":0.2},{"t":176,"bg":-0.2,"pl":-0.2,"ru":0.7},{"t":177,"bg":0.4,"pl":-0.1,"ru":0.8},{"t":178,"bg":0.6,"pl":0.5,"ru":-0.2},{"t":179,"bg":0.4,"pl":0.4,"ru":-0.6},{"t":180,"bg":0.0,"pl":0.2,"ru":1.6},
{"t":181,"bg":-0.4,"pl":0.0,"ru":0.4},{"t":182,"bg":-0.9,"pl":-0.05,"ru":0.8}
]
},
"concat":[
{"width":336,"height":215,"title":{"text":"(a) Tequila effect"},"data":{"name":"tequila"},
"layer":[
{"mark":{"type":"line","strokeWidth":1.5},"encoding":{
"x":{"field":"t","type":"quantitative","title":null,"scale":{"domain":[0,200],"nice":false,"zero":false},"axis":{"values":[0,50,100,150,200]}},
"y":{"field":"ar","type":"quantitative","title":null,"scale":{"domain":[-15,15],"nice":false,"zero":false},"axis":{"values":[-15,-10,-5,0,5,10,15]}},
"color":{"datum":"Argentina","type":"nominal","scale":{"range":["black"]},"legend":{"title":null}}}},
{"mark":{"type":"line","opacity":0},"encoding":{
"x":{"field":"t","type":"quantitative","title":null,"axis":{"orient":"top","labels":false,"values":[0,50,100,150,200]}},
"y":{"field":"ar","type":"quantitative","title":null,"axis":{"orient":"right","labels":false,"values":[-15,-10,-5,0,5,10,15]}}}}
],
"resolve":{"axis":{"x":"independent","y":"independent"}}},
{"width":331,"height":215,"title":{"text":"(b) Asian flu"},"data":{"name":"asian"},
"layer":[
{"mark":{"type":"line","strokeWidth":1.5},"encoding":{
"x":{"field":"t","type":"quantitative","title":null,"scale":{"domain":[0,300],"nice":false,"zero":false},"axis":{"values":[0,50,100,150,200,250,300]}},
"y":{"field":"id","type":"quantitative","title":null,"scale":{"domain":[-40,40],"nice":false,"zero":false},"axis":{"values":[-40,-20,0,20,40]}},
"color":{"datum":"Indonesia","type":"nominal","scale":{"range":["black"]},"legend":{"title":null}}}},
{"mark":{"type":"line","opacity":0},"encoding":{
"x":{"field":"t","type":"quantitative","title":null,"axis":{"orient":"top","labels":false,"values":[0,50,100,150,200,250,300]}},
"y":{"field":"id","type":"quantitative","title":null,"axis":{"orient":"right","labels":false,"values":[-40,-20,0,20,40]}}}}
],
"resolve":{"axis":{"x":"independent","y":"independent"}}},
{"width":333,"height":215,"title":{"text":"(c) Russian cold"},"data":{"name":"russian"},
"layer":[
{"mark":{"type":"line","strokeWidth":1.5},"encoding":{
"x":{"field":"t","type":"quantitative","title":null,"scale":{"domain":[0,200],"nice":false,"zero":false},"axis":{"values":[0,50,100,150,200]}},
"y":{"field":"bg","type":"quantitative","title":null,"scale":{"domain":[-10,15],"nice":false,"zero":false},"axis":{"values":[-10,-5,0,5,10,15]}},
"color":{"datum":"Bulgaria","type":"nominal","scale":{"range":["black"]},"legend":{"title":null}}}},
{"mark":{"type":"line","opacity":0},"encoding":{
"x":{"field":"t","type":"quantitative","title":null,"axis":{"orient":"top","labels":false,"values":[0,50,100,150,200]}},
"y":{"field":"bg","type":"quantitative","title":null,"axis":{"orient":"right","labels":false,"values":[-10,-5,0,5,10,15]}}}}
],
"resolve":{"axis":{"x":"independent","y":"independent"}}},
{"width":336,"height":215,"data":{"name":"tequila"},
"layer":[
{"mark":{"type":"line","strokeWidth":1.5},"encoding":{
"x":{"field":"t","type":"quantitative","title":null,"scale":{"domain":[0,200],"nice":false,"zero":false},"axis":{"values":[0,50,100,150,200]}},
"y":{"field":"br","type":"quantitative","title":null,"scale":{"domain":[-15,15],"nice":false,"zero":false},"axis":{"values":[-15,-10,-5,0,5,10,15]}},
"color":{"datum":"Brazil","type":"nominal","scale":{"range":["black"]},"legend":{"title":null}}}},
{"mark":{"type":"line","opacity":0},"encoding":{
"x":{"field":"t","type":"quantitative","title":null,"axis":{"orient":"top","labels":false,"values":[0,50,100,150,200]}},
"y":{"field":"br","type":"quantitative","title":null,"axis":{"orient":"right","labels":false,"values":[-15,-10,-5,0,5,10,15]}}}}
],
"resolve":{"axis":{"x":"independent","y":"independent"}}},
{"width":331,"height":215,"data":{"name":"asian"},
"layer":[
{"mark":{"type":"line","strokeWidth":1.5},"encoding":{
"x":{"field":"t","type":"quantitative","title":null,"scale":{"domain":[0,300],"nice":false,"zero":false},"axis":{"values":[0,50,100,150,200,250,300]}},
"y":{"field":"kr","type":"quantitative","title":null,"scale":{"domain":[-40,40],"nice":false,"zero":false},"axis":{"values":[-40,-20,0,20,40]}},
"color":{"datum":"Korea","type":"nominal","scale":{"range":["black"]},"legend":{"title":null}}}},
{"mark":{"type":"line","opacity":0},"encoding":{
"x":{"field":"t","type":"quantitative","title":null,"axis":{"orient":"top","labels":false,"values":[0,50,100,150,200,250,300]}},
"y":{"field":"kr","type":"quantitative","title":null,"axis":{"orient":"right","labels":false,"values":[-40,-20,0,20,40]}}}}
],
"resolve":{"axis":{"x":"independent","y":"independent"}}},
{"width":333,"height":215,"data":{"name":"russian"},
"layer":[
{"mark":{"type":"line","strokeWidth":1.5},"encoding":{
"x":{"field":"t","type":"quantitative","title":null,"scale":{"domain":[0,200],"nice":false,"zero":false},"axis":{"values":[0,50,100,150,200]}},
"y":{"field":"pl","type":"quantitative","title":null,"scale":{"domain":[-10,15],"nice":false,"zero":false},"axis":{"values":[-10,-5,0,5,10,15]}},
"color":{"datum":"Poland","type":"nominal","scale":{"range":["black"]},"legend":{"title":null}}}},
{"mark":{"type":"line","opacity":0},"encoding":{
"x":{"field":"t","type":"quantitative","title":null,"axis":{"orient":"top","labels":false,"values":[0,50,100,150,200]}},
"y":{"field":"pl","type":"quantitative","title":null,"axis":{"orient":"right","labels":false,"values":[-10,-5,0,5,10,15]}}}}
],
"resolve":{"axis":{"x":"independent","y":"independent"}}},
{"width":336,"height":215,"data":{"name":"tequila"},
"layer":[
{"mark":{"type":"line","strokeWidth":1.5},"encoding":{
"x":{"field":"t","type":"quantitative","title":null,"scale":{"domain":[0,200],"nice":false,"zero":false},"axis":{"values":[0,50,100,150,200]}},
"y":{"field":"mx","type":"quantitative","title":null,"scale":{"domain":[-15,15],"nice":false,"zero":false},"axis":{"values":[-15,-10,-5,0,5,10,15]}},
"color":{"datum":"Mexico","type":"nominal","scale":{"range":["black"]},"legend":{"title":null}}}},
{"mark":{"type":"line","opacity":0},"encoding":{
"x":{"field":"t","type":"quantitative","title":null,"axis":{"orient":"top","labels":false,"values":[0,50,100,150,200]}},
"y":{"field":"mx","type":"quantitative","title":null,"axis":{"orient":"right","labels":false,"values":[-15,-10,-5,0,5,10,15]}}}}
],
"resolve":{"axis":{"x":"independent","y":"independent"}}},
{"width":331,"height":215,"data":{"name":"asian"},
"layer":[
{"mark":{"type":"line","strokeWidth":1.5},"encoding":{
"x":{"field":"t","type":"quantitative","title":null,"scale":{"domain":[0,300],"nice":false,"zero":false},"axis":{"values":[0,50,100,150,200,250,300]}},
"y":{"field":"th","type":"quantitative","title":null,"scale":{"domain":[-40,40],"nice":false,"zero":false},"axis":{"values":[-40,-20,0,20,40]}},
"color":{"datum":"Thailand","type":"nominal","scale":{"range":["black"]},"legend":{"title":null}}}},
{"mark":{"type":"line","opacity":0},"encoding":{
"x":{"field":"t","type":"quantitative","title":null,"axis":{"orient":"top","labels":false,"values":[0,50,100,150,200,250,300]}},
"y":{"field":"th","type":"quantitative","title":null,"axis":{"orient":"right","labels":false,"values":[-40,-20,0,20,40]}}}}
],
"resolve":{"axis":{"x":"independent","y":"independent"}}},
{"width":333,"height":215,"data":{"name":"russian"},
"layer":[
{"mark":{"type":"line","strokeWidth":1.5},"encoding":{
"x":{"field":"t","type":"quantitative","title":null,"scale":{"domain":[0,200],"nice":false,"zero":false},"axis":{"values":[0,50,100,150,200]}},
"y":{"field":"ru","type":"quantitative","title":null,"scale":{"domain":[-10,15],"nice":false,"zero":false},"axis":{"values":[-10,-5,0,5,10,15]}},
"color":{"datum":"Russia","type":"nominal","scale":{"range":["black"]},"legend":{"title":null}}}},
{"mark":{"type":"line","opacity":0},"encoding":{
"x":{"field":"t","type":"quantitative","title":null,"axis":{"orient":"top","labels":false,"values":[0,50,100,150,200]}},
"y":{"field":"ru","type":"quantitative","title":null,"axis":{"orient":"right","labels":false,"values":[-10,-5,0,5,10,15]}}}}
],
"resolve":{"axis":{"x":"independent","y":"independent"}}}
]
}
